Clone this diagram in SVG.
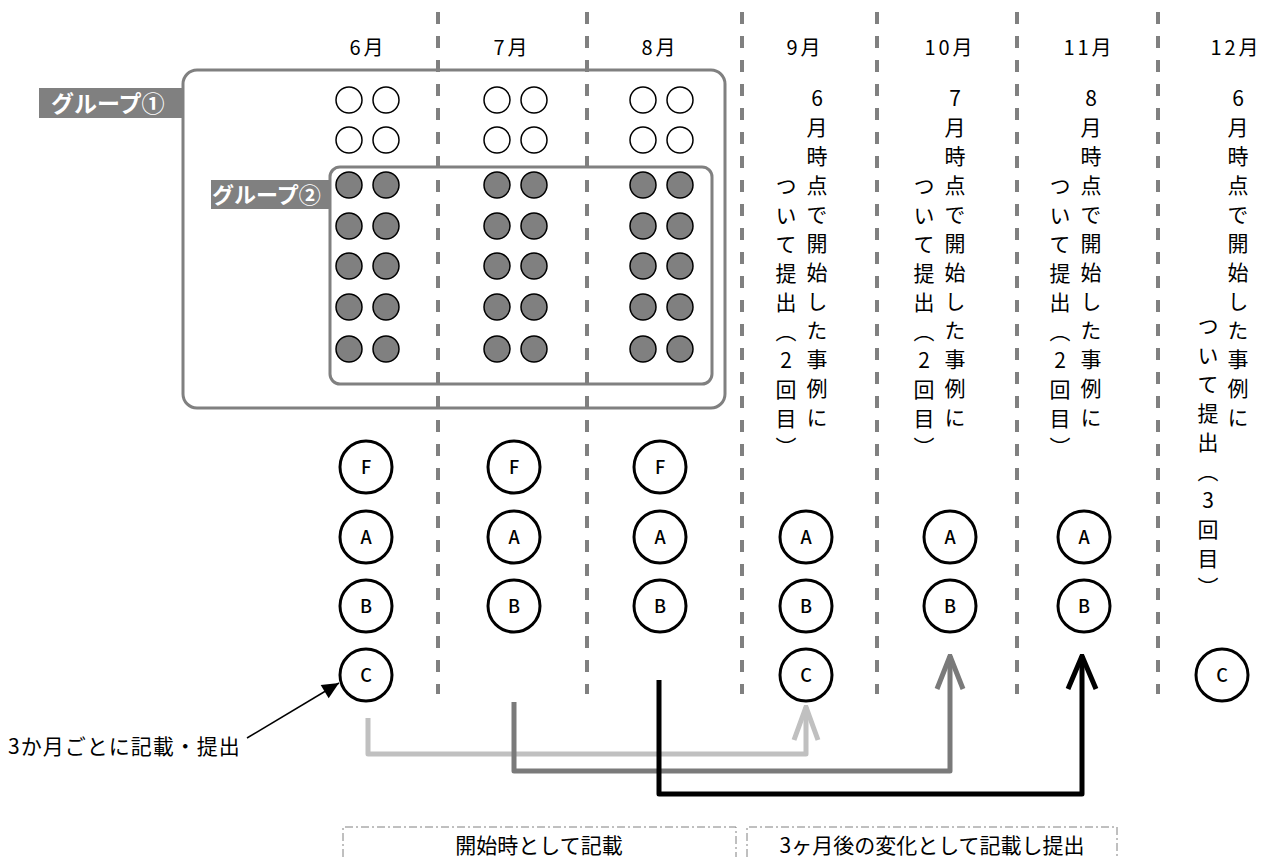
<svg xmlns="http://www.w3.org/2000/svg" width="1270" height="857" viewBox="0 0 1270 857">
<style>
  text { font-family: "Noto Sans CJK JP", "Noto Sans", sans-serif; fill: #000; }
  .month { font-size: 20px; text-anchor: middle; letter-spacing: 3px; }
  .vt { font-size: 21px; writing-mode: vertical-rl; text-orientation: upright; letter-spacing: 8px; }
  .grp { fill: #808080; }
  .grptxt { font-size: 23px; font-weight: bold; fill: #fff; }
  .box { fill: none; stroke: #808080; stroke-width: 3; }
  .div { stroke: #808080; stroke-width: 4; stroke-dasharray: 12 12; }
  .op { fill: #fff; stroke: #000; stroke-width: 1.5; }
  .gy { fill: #808080; stroke: #000; stroke-width: 1.5; }
  .node circle { fill: #fff; stroke: #000; stroke-width: 3; }
  .node text { font-size: 18px; font-weight: 500; text-anchor: middle; }
  .flow { fill: none; stroke-width: 5; stroke-linejoin: round; }
  .bracket { fill: none; stroke: #808080; stroke-width: 1; stroke-dasharray: 8 3 2 3; }
  .btxt { font-size: 21px; text-anchor: middle; }
</style>
<defs>
  <marker id="chevL" markerUnits="userSpaceOnUse" markerWidth="40" markerHeight="40" viewBox="-38 -20 40 40" refX="0" refY="0" orient="auto">
    <path d="M-33,-12 L0,0 L-33,12" fill="none" stroke="#c0c0c0" stroke-width="5"/>
  </marker>
  <marker id="chevM" markerUnits="userSpaceOnUse" markerWidth="40" markerHeight="40" viewBox="-38 -20 40 40" refX="0" refY="0" orient="auto">
    <path d="M-33,-13 L0,0 L-33,13" fill="none" stroke="#7a7a7a" stroke-width="5"/>
  </marker>
  <marker id="chevK" markerUnits="userSpaceOnUse" markerWidth="40" markerHeight="40" viewBox="-38 -20 40 40" refX="0" refY="0" orient="auto">
    <path d="M-33,-14 L0,0 L-33,14" fill="none" stroke="#000" stroke-width="5"/>
  </marker>
  <marker id="tri" markerUnits="userSpaceOnUse" markerWidth="20" markerHeight="20" viewBox="-16 -8 18 16" refX="0" refY="0" orient="auto">
    <path d="M-15,-7 L0,0 L-15,7 Z" fill="#000"/>
  </marker>
</defs>

<!-- month dividers -->
<g id="dividers">
  <line class="div" x1="438" y1="12" x2="438" y2="694"/>
  <line class="div" x1="587" y1="12" x2="587" y2="694"/>
  <line class="div" x1="742" y1="12" x2="742" y2="694"/>
  <line class="div" x1="877" y1="12" x2="877" y2="694"/>
  <line class="div" x1="1017" y1="12" x2="1017" y2="694"/>
  <line class="div" x1="1158" y1="12" x2="1158" y2="694"/>
</g>

<!-- month labels -->
<g id="months">
  <text class="month" x="368" y="55">6月</text>
  <text class="month" x="512" y="55">7月</text>
  <text class="month" x="660" y="55">8月</text>
  <text class="month" x="805" y="55">9月</text>
  <text class="month" x="950" y="55">10月</text>
  <text class="month" x="1089" y="55">11月</text>
  <text class="month" x="1236" y="55">12月</text>
</g>

<!-- group 1 -->
<g id="group1">
  <rect class="box" x="183" y="70" width="542" height="338" rx="14"/>
  <rect class="grp" x="39" y="88" width="145" height="30"/>
  <text class="grptxt" x="51" y="112">グループ①</text>
  <g id="open-dots">
    <circle class="op" cx="349" cy="100" r="13"/><circle class="op" cx="386" cy="100" r="13"/>
    <circle class="op" cx="349" cy="140" r="13"/><circle class="op" cx="386" cy="140" r="13"/>
    <circle class="op" cx="497" cy="100" r="13"/><circle class="op" cx="534" cy="100" r="13"/>
    <circle class="op" cx="497" cy="140" r="13"/><circle class="op" cx="534" cy="140" r="13"/>
    <circle class="op" cx="643" cy="100" r="13"/><circle class="op" cx="680" cy="100" r="13"/>
    <circle class="op" cx="643" cy="140" r="13"/><circle class="op" cx="680" cy="140" r="13"/>
  </g>
</g>

<!-- group 2 -->
<g id="group2">
  <rect class="box" x="330" y="167" width="382" height="217" rx="10"/>
  <rect class="grp" x="211" y="180" width="119" height="29"/>
  <text class="grptxt" x="212" y="203" style="font-size:22px">グループ②</text>
  <g id="gray-dots">
    <circle class="gy" cx="349" cy="185" r="13"/><circle class="gy" cx="386" cy="185" r="13"/>
    <circle class="gy" cx="349" cy="226" r="13"/><circle class="gy" cx="386" cy="226" r="13"/>
    <circle class="gy" cx="349" cy="266" r="13"/><circle class="gy" cx="386" cy="266" r="13"/>
    <circle class="gy" cx="349" cy="307" r="13"/><circle class="gy" cx="386" cy="307" r="13"/>
    <circle class="gy" cx="349" cy="349" r="13"/><circle class="gy" cx="386" cy="349" r="13"/>
    <circle class="gy" cx="497" cy="185" r="13"/><circle class="gy" cx="534" cy="185" r="13"/>
    <circle class="gy" cx="497" cy="226" r="13"/><circle class="gy" cx="534" cy="226" r="13"/>
    <circle class="gy" cx="497" cy="266" r="13"/><circle class="gy" cx="534" cy="266" r="13"/>
    <circle class="gy" cx="497" cy="307" r="13"/><circle class="gy" cx="534" cy="307" r="13"/>
    <circle class="gy" cx="497" cy="349" r="13"/><circle class="gy" cx="534" cy="349" r="13"/>
    <circle class="gy" cx="643" cy="185" r="13"/><circle class="gy" cx="680" cy="185" r="13"/>
    <circle class="gy" cx="643" cy="226" r="13"/><circle class="gy" cx="680" cy="226" r="13"/>
    <circle class="gy" cx="643" cy="266" r="13"/><circle class="gy" cx="680" cy="266" r="13"/>
    <circle class="gy" cx="643" cy="307" r="13"/><circle class="gy" cx="680" cy="307" r="13"/>
    <circle class="gy" cx="643" cy="349" r="13"/><circle class="gy" cx="680" cy="349" r="13"/>
  </g>
</g>

<!-- vertical notes -->
<g id="note-sep">
  <text class="vt" x="817" y="88">6月時点で開始した事例に</text>
  <text class="vt" x="786" y="176">ついて提出（2回目）</text>
</g>
<g id="note-oct">
  <text class="vt" x="955" y="88">7月時点で開始した事例に</text>
  <text class="vt" x="924" y="176">ついて提出（2回目）</text>
</g>
<g id="note-nov">
  <text class="vt" x="1091" y="88">8月時点で開始した事例に</text>
  <text class="vt" x="1060" y="176">ついて提出（2回目）</text>
</g>
<g id="note-dec">
  <text class="vt" x="1238" y="88">6月時点で開始した事例に</text>
  <text class="vt" x="1208" y="316">ついて提出（3回目）</text>
</g>

<!-- F/A/B/C nodes -->
<g id="jun-F" class="node"><circle cx="366" cy="467" r="26"/><text x="366" y="474">F</text></g>
<g id="jun-A" class="node"><circle cx="366" cy="537" r="26"/><text x="366" y="544">A</text></g>
<g id="jun-B" class="node"><circle cx="366" cy="606" r="26"/><text x="366" y="613">B</text></g>
<g id="jun-C" class="node"><circle cx="366" cy="675" r="26"/><text x="366" y="682">C</text></g>
<g id="jul-F" class="node"><circle cx="514" cy="467" r="26"/><text x="514" y="474">F</text></g>
<g id="jul-A" class="node"><circle cx="514" cy="537" r="26"/><text x="514" y="544">A</text></g>
<g id="jul-B" class="node"><circle cx="514" cy="606" r="26"/><text x="514" y="613">B</text></g>
<g id="aug-F" class="node"><circle cx="660" cy="467" r="26"/><text x="660" y="474">F</text></g>
<g id="aug-A" class="node"><circle cx="660" cy="537" r="26"/><text x="660" y="544">A</text></g>
<g id="aug-B" class="node"><circle cx="660" cy="606" r="26"/><text x="660" y="613">B</text></g>
<g id="sep-A" class="node"><circle cx="806" cy="537" r="26"/><text x="806" y="544">A</text></g>
<g id="sep-B" class="node"><circle cx="806" cy="606" r="26"/><text x="806" y="613">B</text></g>
<g id="sep-C" class="node"><circle cx="806" cy="675" r="26"/><text x="806" y="682">C</text></g>
<g id="oct-A" class="node"><circle cx="950" cy="537" r="26"/><text x="950" y="544">A</text></g>
<g id="oct-B" class="node"><circle cx="950" cy="606" r="26"/><text x="950" y="613">B</text></g>
<g id="nov-A" class="node"><circle cx="1084" cy="537" r="26"/><text x="1084" y="544">A</text></g>
<g id="nov-B" class="node"><circle cx="1084" cy="606" r="26"/><text x="1084" y="613">B</text></g>
<g id="dec-C" class="node"><circle cx="1222" cy="675" r="26"/><text x="1222" y="682">C</text></g>

<!-- annotation -->
<g id="annotation">
  <text x="8" y="754" style="font-size:21px;letter-spacing:1px">3か月ごとに記載・提出</text>
</g>

<!-- connectors -->
<g id="connectors">
  <line x1="247" y1="738" x2="339" y2="683" stroke="#000" stroke-width="1.5" marker-end="url(#tri)"/>
  <path class="flow" stroke="#c0c0c0" d="M368,718 V754 H806 V707" marker-end="url(#chevL)"/>
  <path class="flow" stroke="#7a7a7a" d="M514,702 V771 H950 V656" marker-end="url(#chevM)"/>
  <path class="flow" stroke="#000" d="M659,680 V794 H1082 V656" marker-end="url(#chevK)"/>
</g>

<!-- bottom brackets -->
<g id="bracket-start">
  <path class="bracket" d="M343,857 V827 H736 V857"/>
  <text class="btxt" x="539" y="853">開始時として記載</text>
</g>
<g id="bracket-after">
  <path class="bracket" d="M747,857 V827 H1117 V857"/>
  <text class="btxt" x="932" y="853">3ヶ月後の変化として記載し提出</text>
</g>
</svg>
